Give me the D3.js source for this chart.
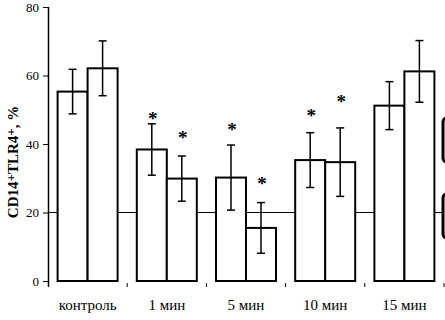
<!DOCTYPE html>
<html>
<head>
<meta charset="utf-8">
<script src="https://cdn.jsdelivr.net/npm/d3@7"></script>
<style>
  body { margin: 0; background: #fff; }
</style>
</head>
<body>
<div id="chart"></div>
<script>
// categories and values
var groups = ["контроль", "1 мин", "5 мин", "10 мин", "15 мин"];
var series1 = [55.3, 38.4, 30.2, 35.3, 51.2];
var series2 = [62.1, 29.9, 15.5, 34.7, 61.2];
var err1 = [6.5, 7.5, 9.5, 8, 7];
var err2 = [8, 6.6, 7.4, 10, 9];
// asterisk level (in %) for significant bars, null = no mark
var star1 = [null, 48.2, 45, 49, null];
var star2 = [null, 42.6, 29.2, 53.1, null];
var yTicks = [0, 20, 40, 60, 80];
var refLevel = 20;

var serif = "'Liberation Serif', 'Times New Roman', serif";
var width = 445, height = 320;
var svg = d3.select("#chart").append("svg")
  .attr("width", width)
  .attr("height", height)
  .attr("font-family", serif);

var x = d3.scaleBand()
  .domain(groups)
  .range([48, 444])
  .paddingInner(0)
  .paddingOuter(0);

var y = d3.scaleLinear()
  .domain([0, 80])
  .range([281, 7]);

var barW = 30;

// reference line at 20%
svg.append("line")
  .attr("x1", 48).attr("x2", width)
  .attr("y1", y(refLevel)).attr("y2", y(refLevel))
  .attr("stroke", "#000").attr("stroke-width", 1);

// y axis
var yAxis = d3.axisLeft(y).tickValues(yTicks).tickSize(5).tickPadding(4);
var gy = svg.append("g")
  .attr("transform", "translate(48,0)")
  .call(yAxis)
  .attr("font-family", serif);
gy.select(".domain").attr("d", "M0.5," + y(80) + "V287").attr("stroke", "#000").attr("stroke-width", 1.5);
gy.selectAll(".tick line").attr("stroke", "#000");
gy.selectAll(".tick text")
  .attr("font-size", 13)
  .attr("fill", "#000");

// category ticks at group boundaries
svg.selectAll(".ctick")
  .data(groups.slice(1).concat(["end"]))
  .enter().append("line")
  .attr("x1", function(d, i) { return x(groups[i]) + x.bandwidth(); })
  .attr("x2", function(d, i) { return x(groups[i]) + x.bandwidth(); })
  .attr("y1", 283).attr("y2", 287)
  .attr("stroke", "#000");

// bars
var data = groups.map(function(g, i) {
  return [
    {g: g, v: series1[i], e: err1[i], s: star1[i], k: 0},
    {g: g, v: series2[i], e: err2[i], s: star2[i], k: 1}
  ];
});
var flat = [].concat.apply([], data);

function cx(d) {
  var mid = x(d.g) + x.bandwidth() / 2;
  return d.k === 0 ? mid - barW / 2 : mid + barW / 2;
}

svg.selectAll(".bar")
  .data(flat)
  .enter().append("rect")
  .attr("x", function(d) { return cx(d) - barW / 2; })
  .attr("y", function(d) { return y(d.v); })
  .attr("width", barW)
  .attr("height", function(d) { return y(0) - y(d.v); })
  .attr("fill", "#fff")
  .attr("stroke", "#000")
  .attr("stroke-width", 2);

// error bars
var eb = svg.selectAll(".err").data(flat).enter().append("g")
  .attr("stroke", "#000").attr("stroke-width", 1.5);
eb.append("line")
  .attr("x1", cx).attr("x2", cx)
  .attr("y1", function(d) { return y(d.v + d.e); })
  .attr("y2", function(d) { return y(d.v - d.e); });
eb.append("line")
  .attr("x1", function(d) { return cx(d) - 4; })
  .attr("x2", function(d) { return cx(d) + 4; })
  .attr("y1", function(d) { return y(d.v + d.e); })
  .attr("y2", function(d) { return y(d.v + d.e); });
eb.append("line")
  .attr("x1", function(d) { return cx(d) - 4; })
  .attr("x2", function(d) { return cx(d) + 4; })
  .attr("y1", function(d) { return y(d.v - d.e); })
  .attr("y2", function(d) { return y(d.v - d.e); });

// asterisks
svg.selectAll(".star")
  .data(flat.filter(function(d) { return d.s != null; }))
  .enter().append("text")
  .attr("x", function(d) { return cx(d) + 1; })
  .attr("y", function(d) { return y(d.s) + 9; })
  .attr("text-anchor", "middle")
  .attr("font-size", 19)
  .attr("font-weight", "bold")
  .text("*");

// category labels
svg.selectAll(".clab")
  .data(groups)
  .enter().append("text")
  .attr("x", function(d) { return x(d) + x.bandwidth() / 2; })
  .attr("y", 310)
  .attr("text-anchor", "middle")
  .attr("font-size", 15)
  .text(function(d) { return d; });

// y axis title
var yt = svg.append("text")
  .attr("transform", "translate(18,162) rotate(-90)")
  .attr("text-anchor", "middle")
  .attr("font-size", 15)
  .attr("font-weight", "bold");
yt.append("tspan").text("CD14");
yt.append("tspan").attr("dy", -3).attr("font-size", 13).text("+");
yt.append("tspan").attr("dy", 3).text("TLR4");
yt.append("tspan").attr("dy", -3).attr("font-size", 13).text("+");
yt.append("tspan").attr("dy", 3).text(", %");

// cut-off legend boxes at right edge
var legendBoxes = [0, 1];
svg.selectAll(".lg")
  .data(legendBoxes)
  .enter().append("rect")
  .attr("x", 443)
  .attr("y", function(d) { return d === 0 ? 118 : 194; })
  .attr("width", 30)
  .attr("height", 44)
  .attr("rx", 4)
  .attr("fill", "#fff")
  .attr("stroke", "#000")
  .attr("stroke-width", 3);
</script>
</body>
</html>
